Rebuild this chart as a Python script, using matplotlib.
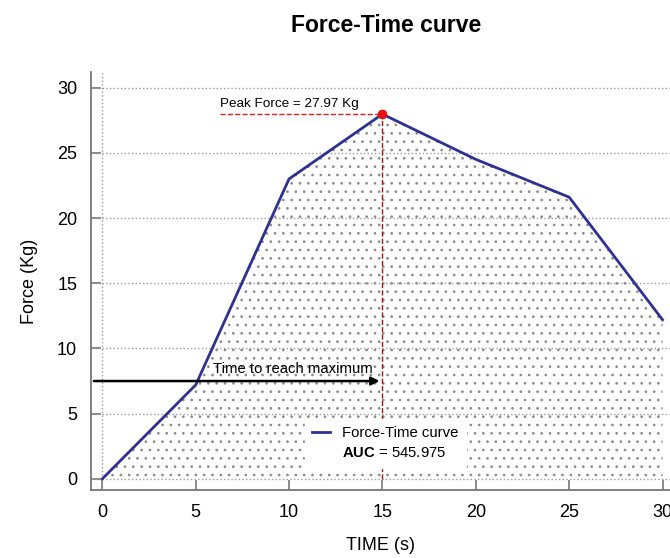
import numpy as np
import matplotlib.pyplot as plt
import matplotlib as mpl
from matplotlib.lines import Line2D

mpl.rcParams['font.family'] = ['Liberation Sans', 'DejaVu Sans']
mpl.rcParams['mathtext.fontset'] = 'custom'
mpl.rcParams['mathtext.rm'] = 'Liberation Sans'
mpl.rcParams['mathtext.bf'] = 'Liberation Sans:bold'
mpl.rcParams['hatch.color'] = '#7a7a7a'
mpl.rcParams['hatch.linewidth'] = 0.7

time_s = [0, 5, 10, 15, 20, 25, 30]
force_kg = [0, 7.2, 23.0, 27.97, 24.5, 21.6, 12.2]
peak_t = 15
peak_f = 27.97
auc = 545.975
arrow_y = 7.5

fig = plt.figure(figsize=(6.7, 5.58), dpi=100)
ax = fig.add_axes([0.136, 0.122, 0.864, 0.749])

ax.fill_between(time_s, force_kg, 0, facecolor='white', hatch='..', edgecolor='#8a8a8a', linewidth=0, zorder=1)
ax.plot(time_s, force_kg, color='#2e3192', lw=2, zorder=4, label='Force-Time curve')

ax.plot([peak_t, peak_t], [0, peak_f], ls='--', color='#b01010', lw=1, zorder=3)
ax.plot([6.3, peak_t], [peak_f, peak_f], ls='--', color='#e02020', lw=1, zorder=3)
ax.plot([peak_t], [peak_f], 'o', color='#e81010', ms=6, zorder=5)
ax.text(6.3, peak_f + 0.35, "Peak Force = %.2f Kg" % peak_f, fontsize=9.7, va='bottom')

ax.annotate('', xy=(peak_t, arrow_y), xytext=(-0.6, arrow_y),
            arrowprops=dict(arrowstyle='-|>', color='black', lw=1.8, mutation_scale=12), zorder=5)
ax.text(10.2, arrow_y + 0.4, "Time to reach maximum", fontsize=10.7, ha='center', va='bottom', zorder=5)

for y in [0, 5, 10, 15, 20, 25, 30]:
    ax.axhline(y, color='#9a9a9a', ls=':', lw=1, zorder=2)
ax.axvline(0, color='#9a9a9a', ls=':', lw=1, zorder=2)

handles = [Line2D([], [], color='#2e3192', lw=2), Line2D([], [], color='none')]
labels = ['Force-Time curve', r'$\mathbf{AUC}$ = %.3f' % auc]
leg = ax.legend(handles, labels, loc='center', bbox_to_anchor=(0.508, 0.112), fontsize=10.7,
                frameon=True, framealpha=1, edgecolor='white', handlelength=1.2, borderpad=0.5,
                labelspacing=0.4)
leg.set_zorder(10)

ax.set_xlim(-0.6, 30.4)
ax.set_ylim(-0.85, 31.2)
ax.set_xticks([0, 5, 10, 15, 20, 25, 30])
ax.set_yticks([0, 5, 10, 15, 20, 25, 30])
ax.tick_params(direction='in', length=7, width=1.2, color='#777777', labelsize=13, pad=10)
ax.spines['top'].set_visible(False)
ax.spines['right'].set_visible(False)
for s in ['left', 'bottom']:
    ax.spines[s].set_color('#777777')
    ax.spines[s].set_linewidth(1.3)

ax.set_xlabel("TIME (s)", fontsize=13, labelpad=12)
ax.set_ylabel("Force (Kg)", fontsize=13, labelpad=14)
fig.text(0.576, 0.955, "Force-Time curve", fontsize=16.5, fontweight='bold', ha='center', va='center')

plt.savefig("out.png")
